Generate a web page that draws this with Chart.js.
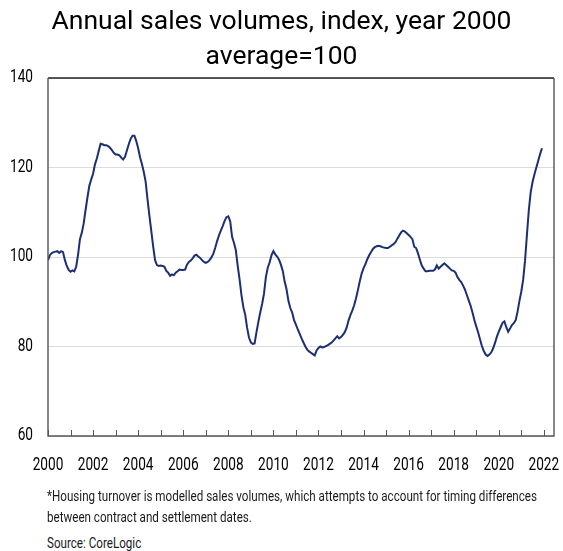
<!DOCTYPE html>
<html>
<head>
<meta charset="utf-8">
<script src="https://cdn.jsdelivr.net/npm/chart.js@4.4.1/dist/chart.umd.min.js"></script>
<style>
  html, body { margin: 0; padding: 0; background: #ffffff; }
  #wrap { position: relative; width: 563px; height: 551px; overflow: hidden; }
  #title { position: absolute; left: 0; top: 2px; width: 563px; text-align: center;
    font-family: "Roboto", "Noto Sans", sans-serif; font-size: 26.5px; line-height: 35px; color: #000; }
  #chartBox { position: absolute; left: 0; top: 0; width: 563px; height: 490px; }
  .note { position: absolute; left: 47px; font-family: "Roboto", sans-serif;
    font-size: 14px; line-height: 14px; color: #1a1a1a; white-space: nowrap; transform-origin: 0 0; }
</style>
</head>
<body>
<div id="wrap">
  <div id="chartBox"><canvas id="c" width="563" height="490"></canvas></div>
  <div id="title">Annual sales volumes, index, year 2000<br>average=100</div>
  <div class="note" style="top:489px">*Housing turnover is modelled sales volumes, which attempts to account for timing differences</div>
  <div class="note" style="top:510px">between contract and settlement dates.</div>
  <div class="note" style="top:536px">Source: CoreLogic</div>
</div>
<script>
// Monthly index values (Jan..Dec) per year, year 2000 average = 100
const startYear = 2000;
const v2000 = [99.3, 100.4, 100.9, 101.1, 101.2, 101.3, 100.9, 101.3, 101.1, 99.3, 98.0, 97.1];
const v2001 = [96.7, 97.0, 96.8, 97.8, 100.5, 104.0, 105.4, 107.5, 110.5, 113.3, 115.9, 117.3];
const v2002 = [118.6, 120.7, 122.0, 123.7, 125.3, 125.2, 125.0, 125.0, 124.8, 124.4, 123.9, 123.3];
const v2003 = [122.9, 122.9, 122.7, 122.2, 121.8, 122.4, 123.8, 125.2, 126.4, 127.1, 127.1, 125.9];
const v2004 = [124.3, 122.3, 120.8, 119.0, 116.8, 112.8, 109.2, 105.8, 102.3, 99.3, 98.2, 98.0];
const v2005 = [98.1, 98.0, 97.8, 96.9, 96.5, 95.8, 96.1, 95.9, 96.5, 96.8, 97.2, 97.1];
const v2006 = [97.1, 97.2, 98.3, 98.9, 99.2, 99.7, 100.3, 100.5, 100.1, 99.8, 99.3, 98.9];
const v2007 = [98.7, 98.9, 99.3, 99.9, 100.7, 102.0, 103.5, 104.8, 105.9, 106.9, 108.0, 108.9];
const v2008 = [109.1, 108.0, 104.5, 103.2, 101.5, 98.0, 95.0, 91.5, 88.8, 87.1, 84.2, 82.0];
const v2009 = [80.9, 80.6, 80.7, 83.2, 85.5, 87.6, 89.5, 91.8, 95.5, 97.6, 98.8, 100.4];
const v2010 = [101.3, 100.6, 100.1, 99.4, 98.3, 96.9, 94.5, 92.8, 90.2, 88.6, 87.6, 85.9];
const v2011 = [84.9, 83.8, 82.8, 81.8, 80.9, 80.0, 79.3, 78.9, 78.6, 78.3, 78.0, 79.1];
const v2012 = [79.7, 80.0, 79.8, 79.9, 80.1, 80.3, 80.6, 80.9, 81.3, 81.8, 82.3, 81.8];
const v2013 = [82.1, 82.6, 83.2, 84.2, 85.8, 87.0, 88.0, 89.2, 90.8, 92.6, 94.6, 96.3];
const v2014 = [97.5, 98.4, 99.5, 100.4, 101.1, 101.8, 102.2, 102.4, 102.5, 102.4, 102.2, 102.1];
const v2015 = [102.0, 102.0, 102.3, 102.6, 102.9, 103.3, 104.1, 104.8, 105.5, 105.9, 105.7, 105.3];
const v2016 = [104.9, 104.5, 104.0, 102.3, 102.0, 100.8, 99.4, 98.1, 97.4, 96.8, 96.8, 96.9];
const v2017 = [96.9, 96.9, 97.2, 98.1, 97.4, 97.8, 98.2, 98.6, 98.2, 97.8, 97.4, 97.0];
const v2018 = [96.9, 96.5, 95.5, 94.9, 94.4, 93.6, 92.7, 91.5, 90.3, 89.1, 87.6, 85.9];
const v2019 = [84.5, 83.2, 81.6, 80.1, 79.0, 78.2, 77.9, 78.2, 78.7, 79.6, 80.8, 82.2];
const v2020 = [83.3, 84.3, 85.3, 85.6, 84.3, 83.3, 84.0, 84.8, 85.2, 85.9, 87.8, 90.2];
const v2021 = [92.3, 95.0, 99.3, 105.0, 110.5, 114.5, 116.8, 118.5, 120.0, 121.5, 123.0, 124.3];

const yearlySeries = [v2000, v2001, v2002, v2003, v2004, v2005, v2006, v2007, v2008, v2009, v2010,
  v2011, v2012, v2013, v2014, v2015, v2016, v2017, v2018, v2019, v2020, v2021];

const xTickYears = [2000,2001,2002,2003,2004,2005,2006,2007,2008,2009,2010,2011,
  2012,2013,2014,2015,2016,2017,2018,2019,2020,2021,2022];
const xLabelYears = [2000,2002,2004,2006,2008,2010,2012,2014,2016,2018,2020,2022];
const yTicks = [60, 80, 100, 120, 140];

const points = [];
yearlySeries.forEach((arr, yi) => {
  arr.forEach((v, m) => points.push({ x: startYear + yi + m / 12, y: v }));
});

// condensed look for notes: fit first line to the reference width
(function () {
  const notes = document.querySelectorAll('.note');
  const w = notes[0].getBoundingClientRect().width;
  const k = 490 / w;
  notes.forEach(n => { n.style.transform = 'scaleX(' + k + ')'; });
})();

const labelFont = "17.5px Roboto, sans-serif";
const condense = 0.78;

const framePlugin = {
  id: 'frame',
  afterDraw(chart) {
    const { ctx, chartArea: a, scales } = chart;
    ctx.save();
    // inner tick marks on x axis
    ctx.strokeStyle = '#555';
    ctx.lineWidth = 1;
    xTickYears.forEach(yv => {
      const px = Math.round(scales.x.getPixelForValue(yv)) + 0.5;
      ctx.beginPath();
      ctx.moveTo(px, a.bottom);
      ctx.lineTo(px, a.bottom - 6);
      ctx.stroke();
    });
    // box
    ctx.strokeStyle = '#222';
    ctx.lineWidth = 1.6;
    ctx.beginPath();
    ctx.moveTo(a.left, a.top);
    ctx.lineTo(a.right, a.top);
    ctx.stroke();
    ctx.strokeStyle = '#555';
    ctx.lineWidth = 1.4;
    ctx.beginPath();
    ctx.moveTo(a.left, a.top);
    ctx.lineTo(a.left, a.bottom);
    ctx.lineTo(a.right, a.bottom);
    ctx.lineTo(a.right, a.top);
    ctx.stroke();

    // tick labels (condensed)
    ctx.fillStyle = '#000';
    ctx.font = labelFont;
    ctx.textBaseline = 'middle';
    ctx.textAlign = 'right';
    yTicks.forEach(v => {
      const py = scales.y.getPixelForValue(v);
      ctx.save();
      ctx.translate(a.left - 15, py);
      ctx.scale(condense, 1);
      ctx.fillText(String(v), 0, 0);
      ctx.restore();
    });
    ctx.textAlign = 'center';
    xLabelYears.forEach(v => {
      const px = scales.x.getPixelForValue(v);
      ctx.save();
      ctx.translate(px, a.bottom + 30);
      ctx.scale(condense, 1);
      ctx.fillText(String(v), 0, 0);
      ctx.restore();
    });
    ctx.restore();
  }
};

new Chart(document.getElementById('c'), {
  type: 'line',
  data: {
    datasets: [{
      data: points,
      borderColor: '#1c2f72',
      borderWidth: 2,
      pointRadius: 0,
      tension: 0,
      fill: false
    }]
  },
  options: {
    responsive: false,
    animation: false,
    layout: { padding: { top: 78, right: 9, bottom: 0, left: 0 } },
    plugins: { legend: { display: false }, tooltip: { enabled: false }, title: { display: false } },
    scales: {
      x: {
        type: 'linear',
        min: 2000,
        max: 2022.45,
        afterBuildTicks(scale) { scale.ticks = xLabelYears.map(v => ({ value: v })); },
        afterFit(scale) { scale.height = 54; },
        grid: { display: false, drawTicks: false },
        border: { display: false },
        ticks: { display: false }
      },
      y: {
        min: 60,
        max: 140,
        afterBuildTicks(scale) { scale.ticks = yTicks.map(v => ({ value: v })); },
        afterFit(scale) { scale.width = 48; },
        grid: { color: '#dcdcdc', lineWidth: 1, drawTicks: false },
        border: { display: false },
        ticks: { display: false }
      }
    }
  },
  plugins: [framePlugin]
});
</script>
</body>
</html>
